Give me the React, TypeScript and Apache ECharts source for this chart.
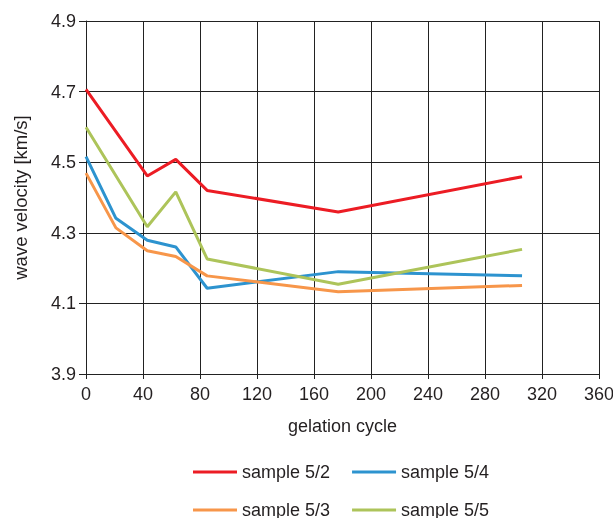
import React, { useEffect, useRef } from "react";
import * as echarts from "echarts";

const cycles = [0, 21, 43, 63, 85, 177, 306];
const sample52: (number | null)[] = [4.706, null, 4.461, 4.508, 4.42, 4.359, 4.459];
const sample54: (number | null)[] = [4.516, 4.341, 4.279, 4.26, 4.143, 4.19, 4.178];
const sample53: (number | null)[] = [4.469, 4.314, 4.249, 4.233, 4.178, 4.133, 4.151];
const sample55: (number | null)[] = [4.599, null, 4.317, 4.416, 4.226, 4.154, 4.253];

const seriesNames = ["sample 5/2", "sample 5/4", "sample 5/3", "sample 5/5"];
const seriesData = [sample52, sample54, sample53, sample55];
const colors = ["#ec1c24", "#2d93cf", "#f7964a", "#adc45a"];

const FONT = "Liberation Sans, Arial, sans-serif";
const TXT = "#231f20";

export default function App() {
  const ref = useRef<HTMLDivElement>(null);
  useEffect(() => {
    if (!ref.current) return;
    const chart = echarts.init(ref.current, undefined, { renderer: "svg" });
    const legendText = { fontSize: 18, color: TXT, fontFamily: FONT };
    chart.setOption({
      animation: false,
      textStyle: { fontFamily: FONT },
      grid: { left: 86, right: 14, top: 21, bottom: 144, outerBoundsMode: "none", containLabel: false },
      xAxis: {
        type: "value",
        min: 0,
        max: 360,
        interval: 40,
        name: "gelation cycle",
        nameLocation: "middle",
        nameGap: 43,
        nameTextStyle: { fontSize: 18, color: TXT, fontFamily: FONT },
        axisLine: { show: true, lineStyle: { color: "#222", width: 1 } },
        axisTick: { show: true, length: 5, lineStyle: { color: "#222" } },
        axisLabel: { fontSize: 18, color: TXT, margin: 11, fontFamily: FONT },
        splitLine: { show: true, lineStyle: { color: "#222", width: 1 } },
      },
      yAxis: {
        type: "value",
        min: 3.9,
        max: 4.9,
        interval: 0.2,
        name: "wave velocity [km/s]",
        nameLocation: "middle",
        nameGap: 56,
        nameTextStyle: { fontSize: 18.5, color: TXT, fontFamily: FONT },
        axisLine: { show: true, lineStyle: { color: "#222", width: 1 } },
        axisTick: { show: true, length: 7, lineStyle: { color: "#222" } },
        axisLabel: {
          fontSize: 18,
          color: TXT,
          margin: 10,
          fontFamily: FONT,
          formatter: (v: number) => v.toFixed(1),
        },
        splitLine: { show: true, lineStyle: { color: "#222", width: 1 } },
      },
      legend: [
        {
          data: [seriesNames[0], seriesNames[1]],
          left: 188,
          top: 458,
          icon: "rect",
          itemWidth: 44,
          itemHeight: 3,
          itemGap: 22,
          textStyle: legendText,
        },
        {
          data: [seriesNames[2], seriesNames[3]],
          left: 188,
          top: 496,
          icon: "rect",
          itemWidth: 44,
          itemHeight: 3,
          itemGap: 22,
          textStyle: legendText,
        },
      ],
      series: seriesNames.map((name, i) => ({
        name,
        type: "line",
        data: cycles.map((c, j) => [c, seriesData[i][j]]),
        connectNulls: true,
        showSymbol: false,
        symbol: "none",
        lineStyle: { color: colors[i], width: 3 },
        itemStyle: { color: colors[i] },
      })),
    });
    return () => chart.dispose();
  }, []);
  return (
    <div
      ref={ref}
      style={{ position: "fixed", left: 0, top: 0, width: 613, height: 518 }}
    />
  );
}
